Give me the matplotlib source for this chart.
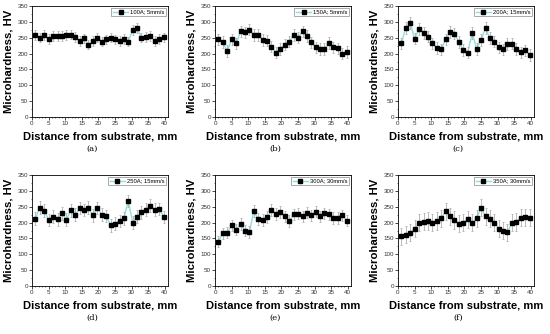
import matplotlib.pyplot as plt

plt.rcParams['font.family'] = ['Liberation Sans', 'DejaVu Sans']

# x positions of indentation points (mm)
dist = [1.0, 2.3, 3.7, 5.0, 6.4, 7.7, 9.0, 10.4, 11.7, 13.0,
        14.4, 15.7, 17.0, 18.4, 19.7, 21.0, 22.4, 23.7, 25.0, 26.4,
        27.7, 29.0, 30.4, 31.7, 33.0, 34.4, 35.7, 37.0, 38.4, 39.7]

hv_a = [258, 250, 258, 246, 256, 255, 256, 259, 260, 252,
        240, 248, 228, 240, 250, 238, 245, 250, 245, 240,
        246, 238, 275, 280, 250, 253, 256, 240, 246, 251]
hv_b = [245, 236, 208, 245, 232, 270, 267, 275, 258, 259,
        243, 241, 222, 203, 215, 228, 238, 258, 250, 270,
        256, 235, 220, 215, 215, 233, 220, 216, 200, 205]
hv_c = [232, 280, 296, 247, 278, 265, 253, 232, 218, 213,
        245, 268, 263, 236, 211, 203, 265, 215, 243, 280,
        249, 238, 220, 213, 230, 231, 214, 204, 210, 196]
hv_d = [212, 247, 238, 208, 219, 210, 229, 209, 239, 225,
        246, 240, 247, 223, 246, 225, 221, 191, 197, 205,
        213, 268, 200, 219, 232, 241, 253, 241, 243, 218]
hv_e = [140, 166, 168, 191, 178, 196, 175, 170, 236, 211,
        208, 217, 239, 227, 233, 220, 205, 226, 228, 220,
        231, 223, 234, 220, 229, 226, 215, 214, 223, 206]
hv_f = [157, 162, 168, 181, 199, 203, 205, 200, 205, 214,
        235, 220, 208, 197, 200, 210, 200, 213, 247, 220,
        212, 200, 181, 175, 170, 200, 202, 215, 217, 215]

errs = [15, 18, 18, 20, 18, 27]
series = [hv_a, hv_b, hv_c, hv_d, hv_e, hv_f]
labels = ["100A; 5mm/s", "150A; 5mm/s", "200A; 15mm/s",
          "250A; 15mm/s", "300A; 30mm/s", "350A; 30mm/s"]
panel_tags = ["(a)", "(b)", "(c)", "(d)", "(e)", "(f)"]

W, H = 550, 334
fig = plt.figure(figsize=(5.5, 3.34), dpi=100)

lefts = [32, 215, 398]
tops = [6, 175]
aw, ah = 136, 111
line_col = "#8ee0e0"

for i, hv in enumerate(series):
    r, c = divmod(i, 3)
    x0 = lefts[c]
    y0 = tops[r]
    ax = fig.add_axes([x0 / W, 1 - (y0 + ah) / H, aw / W, ah / H])
    ax.plot(dist, hv, "-", color=line_col, lw=1.0, zorder=2)
    ax.errorbar(dist, hv, yerr=errs[i], fmt="s", color="black", ms=2.3,
                ecolor="#b0b0b0", elinewidth=0.6, capsize=1.0,
                capthick=0.6, zorder=3)
    handle = plt.Line2D([], [], color=line_col, lw=1.0, marker="s",
                        mfc="black", mec="black", ms=2.3)
    leg = ax.legend(handles=[handle], labels=[labels[i]], loc="upper right",
                    fontsize=4.2, frameon=True, fancybox=False,
                    edgecolor="#888888", framealpha=1, borderpad=0.3,
                    handlelength=2.5, handletextpad=0.4, borderaxespad=0.3)
    leg.get_frame().set_linewidth(0.5)
    ax.set_xlim(0, 41)
    ax.set_ylim(0, 350)
    ax.set_xticks(range(0, 41, 5))
    ax.set_yticks(range(0, 351, 50))
    ax.set_xticks(range(0, 41, 1), minor=True)
    ax.set_yticks(range(0, 351, 25), minor=True)
    ax.tick_params(labelsize=4.5, length=2, width=0.5, pad=1,
                   labelcolor="#333333")
    ax.tick_params(which="minor", length=1, width=0.4)
    for s in ax.spines.values():
        s.set_linewidth(0.6)
    ax.set_ylabel("Microhardness, HV", fontsize=8.2, fontweight="bold",
                  labelpad=2.5)
    ax.set_xlabel("Distance from substrate, mm", fontsize=8,
                  fontweight="bold", labelpad=4)
    fig.text((x0 + aw / 2 - 8) / W, 1 - (y0 + 143) / H, panel_tags[i],
             fontsize=6, ha="center", va="center", family="serif")

fig.savefig("out.png", dpi=100)
